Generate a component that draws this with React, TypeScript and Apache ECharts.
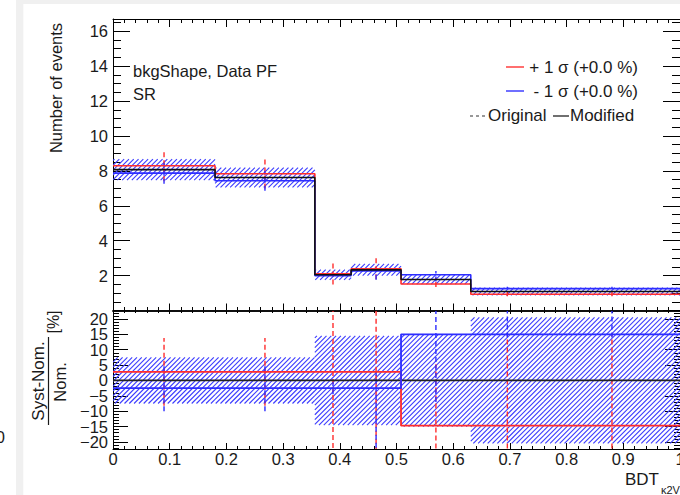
import React, { useEffect, useRef } from 'react';
import * as echarts from 'echarts';

// ---------------- data ----------------
const binEdges = [0, 0.18, 0.356, 0.42, 0.508, 0.631, 0.76, 1.0];
const nominalEvents = [8.07, 7.62, 2.05, 2.33, 1.78, 1.09, 1.09];
const plusShiftPct = [2.8, 2.8, 2.8, 2.8, -14.7, -14.7, -14.7];
const minusShiftPct = [-2.5, -2.5, -2.5, -2.5, 15, 15, 15];
const statErrPct = [7.5, 7.5, 14.5, 14.5, 15, 20.5, 20.5];
const plusErrUpPct = [11, 11, 30, 26, 20, 30, 30];
const plusErrDownPct = [11, 11, 30, 26, 10, 10, 10];
const minusErrUpPct = [7.5, 7.5, 2, 5.5, 12, 10, 10];
const minusErrDownPct = [7.5, 7.5, 2, 22, 22, 1, 1];

const eventTicks = [0, 2, 4, 6, 8, 10, 12, 14, 16];
const ratioTicks = [-20, -15, -10, -5, 0, 5, 10, 15, 20];
const ratioLabelsA = [-20, -10, 0, 10, 20];
const ratioLabelsB = [-15, -5, 5, 15];
const xTickLabels = ['0', '0.1', '0.2', '0.3', '0.4', '0.5', '0.6', '0.7', '0.8', '0.9', '1'];

const legendPlus = '+ 1 \u03c3 (+0.0 %)';
const legendMinus = ' - 1 \u03c3 (+0.0 %)';
const regionLabel = 'bkgShape, Data PF';
const regionSub = 'SR';

// ---------------- style ----------------
const FONT = '"Liberation Sans", Arial, Helvetica, sans-serif';
const TXT = '#1a1a1a';
const RED = '#ff2d2d';
const BLUE = '#2d2dff';
const HATCH = '#3c3cff';
const HATCH_STEP = 4.8;

const eventMinor: number[] = [];
for (let v = 0; v <= 16.6; v += 0.5) eventMinor.push(Math.round(v * 10) / 10);
const ratioMinor: number[] = [];
for (let v = -22; v <= 22; v += 1) ratioMinor.push(v);

const centers = binEdges.slice(0, -1).map((e, i) => (e + binEdges[i + 1]) / 2);

function stepPoints(values: number[]) {
  const pts: number[][] = [];
  values.forEach((v, i) => {
    pts.push([binEdges[i], v]);
    pts.push([binEdges[i + 1], v]);
  });
  return pts;
}

const plusEvents = nominalEvents.map((n, i) => n * (1 + plusShiftPct[i] / 100));
const minusEvents = nominalEvents.map((n, i) => n * (1 + minusShiftPct[i] / 100));
const zeroRatio = nominalEvents.map(() => 0);

const hatchTop = nominalEvents.map((n, i) => [
  binEdges[i], binEdges[i + 1], n * (1 - statErrPct[i] / 100), n * (1 + statErrPct[i] / 100),
]);
const hatchBottom = statErrPct.map((e, i) => [binEdges[i], binEdges[i + 1], -e, e]);

const errTop = (shift: number[], up: number[], down: number[]) =>
  centers.map((c, i) => [
    c,
    nominalEvents[i] * (1 + (shift[i] - down[i]) / 100),
    nominalEvents[i] * (1 + (shift[i] + up[i]) / 100),
  ]);
const errBottom = (shift: number[], up: number[], down: number[]) =>
  centers.map((c, i) => [c, shift[i] - down[i], shift[i] + up[i]]);

function renderHatch(_params: any, api: any) {
  const a = api.coord([api.value(0), api.value(3)]);
  const b = api.coord([api.value(1), api.value(2)]);
  const x0 = Math.min(a[0], b[0]);
  const x1 = Math.max(a[0], b[0]);
  const y0 = Math.min(a[1], b[1]);
  const y1 = Math.max(a[1], b[1]);
  const children: any[] = [];
  const start = Math.ceil((x0 + y0) / HATCH_STEP) * HATCH_STEP;
  for (let c = start; c <= x1 + y1; c += HATCH_STEP) {
    const xa = Math.max(x0, c - y1);
    const xb = Math.min(x1, c - y0);
    if (xb - xa > 0.3) {
      children.push({
        type: 'line',
        shape: { x1: xa, y1: c - xa, x2: xb, y2: c - xb },
        style: { stroke: HATCH, lineWidth: 1.1 },
      });
    }
  }
  return { type: 'group', children };
}

function renderErr(color: string) {
  return (_params: any, api: any) => {
    const p = api.coord([api.value(0), api.value(1)]);
    const q = api.coord([api.value(0), api.value(2)]);
    return {
      type: 'line',
      shape: { x1: p[0], y1: p[1], x2: q[0], y2: q[1] },
      style: { stroke: color, lineWidth: 1.4, lineDash: [5, 3] },
    };
  };
}

const labelStyle = { color: TXT, fontSize: 16.5, fontFamily: FONT };

function yAxes(gridIndex: number, min: number, max: number, majors: number[], minors: number[],
  majLen: number, minLen: number, formatter: (v: number) => string,
  labelsA: number[], labelsB: number[] | null) {
  const base = {
    type: 'value', gridIndex, min, max,
    splitLine: { show: false },
  };
  const lab = (vals: number[]) => ({
    show: true, customValues: vals, formatter, margin: 5,
    showMinLabel: true, showMaxLabel: true, hideOverlap: false, ...labelStyle,
  });
  const out: any[] = [];
  (['left', 'right'] as const).forEach((position) => {
    out.push({
      ...base, position,
      axisLine: { show: true, onZero: false, lineStyle: { color: '#000', width: 1 } },
      axisTick: { show: true, inside: true, length: majLen, customValues: majors, lineStyle: { color: '#000', width: 1 } },
      axisLabel: position === 'left' ? lab(labelsA) : { show: false },
    });
    out.push({
      ...base, position,
      axisLine: { show: false, onZero: false },
      axisTick: { show: true, inside: true, length: minLen, customValues: minors, lineStyle: { color: '#000', width: 1 } },
      axisLabel: position === 'left' && labelsB ? lab(labelsB) : { show: false },
    });
  });
  return out;
}

function xAxis(gridIndex: number, position: 'top' | 'bottom', majLen: number, minLen: number, labels: boolean, lw: number) {
  return {
    type: 'value', gridIndex, position, min: 0, max: 1, interval: 0.1,
    axisLine: { show: true, onZero: false, lineStyle: { color: '#000', width: lw } },
    axisTick: { show: true, inside: true, length: majLen, lineStyle: { color: '#000', width: 1 } },
    minorTick: { show: true, splitNumber: 5, length: minLen, lineStyle: { color: '#000', width: 1 } },
    splitLine: { show: false },
    minorSplitLine: { show: false },
    axisLabel: labels
      ? {
          show: true, margin: 1, showMinLabel: true, showMaxLabel: true, ...labelStyle,
          formatter: (v: number) => xTickLabels[Math.round(v * 10)] ?? '',
        }
      : { show: false },
  };
}

function lineSeries(xi: number, yi: number, data: number[][], color: string, width: number) {
  return {
    type: 'line', xAxisIndex: xi, yAxisIndex: yi, data,
    symbol: 'none', showSymbol: false, clip: true, silent: true,
    lineStyle: { color, width },
  };
}

function customSeries(xi: number, yi: number, data: number[][], renderItem: any, encode: any) {
  return {
    type: 'custom', xAxisIndex: xi, yAxisIndex: yi, data, renderItem, encode, clip: true, silent: true,
  };
}

function buildOption(): any {
  const ratioFmt = (v: number) => (v < 0 ? '\u2212' + String(-v) : String(v));
  const evFmt = (v: number) => (v === 0 ? '' : String(v));
  const g = (o: any) => ({ silent: true, ...o });
  return {
    animation: false,
    backgroundColor: '#ffffff',
    grid: [
      { left: 113, top: 19, width: 567, height: 291.5, outerBoundsMode: 'none', containLabel: false },
      { left: 113, top: 311, width: 567, height: 138, outerBoundsMode: 'none', containLabel: false },
    ],
    xAxis: [
      xAxis(0, 'bottom', 7, 3.5, false, 1.5),
      xAxis(0, 'top', 8, 4, false, 1),
      xAxis(1, 'bottom', 6, 3, true, 1.2),
      xAxis(1, 'top', 3, 2, false, 1.5),
    ],
    yAxis: [
      ...yAxes(0, 0, 16.7, eventTicks, eventMinor, 17, 8, evFmt, eventTicks, null),
      ...yAxes(1, -22.3, 22.6, ratioTicks, ratioMinor, 15, 6, ratioFmt, ratioLabelsA, ratioLabelsB),
    ],
    series: [
      // top panel
      customSeries(0, 0, hatchTop, renderHatch, { x: [0, 1], y: [2, 3] }),
      lineSeries(0, 0, stepPoints(plusEvents), RED, 1.6),
      lineSeries(0, 0, stepPoints(minusEvents), BLUE, 1.6),
      customSeries(0, 0, errTop(plusShiftPct, plusErrUpPct, plusErrDownPct), renderErr(RED), { x: 0, y: [1, 2] }),
      customSeries(0, 0, errTop(minusShiftPct, minusErrUpPct, minusErrDownPct), renderErr(BLUE), { x: 0, y: [1, 2] }),
      lineSeries(0, 0, stepPoints(nominalEvents), '#111', 1.6),
      // ratio panel
      customSeries(2, 4, hatchBottom, renderHatch, { x: [0, 1], y: [2, 3] }),
      lineSeries(2, 4, stepPoints(zeroRatio), '#222', 1.8),
      lineSeries(2, 4, stepPoints(plusShiftPct), RED, 1.8),
      lineSeries(2, 4, stepPoints(minusShiftPct), BLUE, 1.8),
      customSeries(2, 4, errBottom(plusShiftPct, plusErrUpPct, plusErrDownPct), renderErr(RED), { x: 0, y: [1, 2] }),
      customSeries(2, 4, errBottom(minusShiftPct, minusErrUpPct, minusErrDownPct), renderErr(BLUE), { x: 0, y: [1, 2] }),
    ],
    graphic: [
      g({ type: 'rect', z: -1, shape: { x: 16, y: 0, width: 7.3, height: 495 }, style: { fill: '#f0f0f0' } }),
      g({ type: 'rect', z: -1, shape: { x: 16, y: 0, width: 664, height: 4 }, style: { fill: '#f0f0f0' } }),
      g({ type: 'text', x: 5, y: 437, style: { text: '0', fill: TXT, font: `16.5px ${FONT}`, align: 'right', verticalAlign: 'middle' } }),
      // y titles
      g({ type: 'text', x: 56, y: 88, rotation: Math.PI / 2, style: { text: 'Number of events', fill: TXT, font: `16.5px ${FONT}`, align: 'center', verticalAlign: 'middle' } }),
      g({ type: 'text', x: 38, y: 381, rotation: Math.PI / 2, style: { text: 'Syst-Nom.', fill: TXT, font: `17px ${FONT}`, align: 'center', verticalAlign: 'middle' } }),
      g({ type: 'line', shape: { x1: 48.5, y1: 337, x2: 48.5, y2: 425 }, style: { stroke: TXT, lineWidth: 1.2 } }),
      g({ type: 'text', x: 60, y: 382, rotation: Math.PI / 2, style: { text: 'Nom.', fill: TXT, font: `16.5px ${FONT}`, align: 'center', verticalAlign: 'middle' } }),
      g({ type: 'text', x: 53, y: 322, rotation: Math.PI / 2, style: { text: '[%]', fill: TXT, font: `16px ${FONT}`, align: 'center', verticalAlign: 'middle' } }),
      // labels in the plot
      g({ type: 'text', x: 133, y: 71, style: { text: regionLabel, fill: TXT, font: `16.5px ${FONT}`, align: 'left', verticalAlign: 'middle' } }),
      g({ type: 'text', x: 133, y: 94, style: { text: regionSub, fill: TXT, font: `16.5px ${FONT}`, align: 'left', verticalAlign: 'middle' } }),
      // legend
      g({ type: 'line', shape: { x1: 506, y1: 67, x2: 524, y2: 67 }, style: { stroke: '#ff6f6f', lineWidth: 2 } }),
      g({ type: 'text', x: 638, y: 67, style: { text: legendPlus, fill: TXT, font: `17px ${FONT}`, align: 'right', verticalAlign: 'middle' } }),
      g({ type: 'line', shape: { x1: 506, y1: 91, x2: 524, y2: 91 }, style: { stroke: '#6f6fff', lineWidth: 2 } }),
      g({ type: 'text', x: 638, y: 91, style: { text: legendMinus, fill: TXT, font: `17px ${FONT}`, align: 'right', verticalAlign: 'middle' } }),
      g({ type: 'line', shape: { x1: 470, y1: 116, x2: 485, y2: 116 }, style: { stroke: '#333', lineWidth: 1.2, lineDash: [3, 3] } }),
      g({ type: 'text', x: 488, y: 115, style: { text: 'Original', fill: TXT, font: `17px ${FONT}`, align: 'left', verticalAlign: 'middle' } }),
      g({ type: 'line', shape: { x1: 553, y1: 116, x2: 569, y2: 116 }, style: { stroke: '#222', lineWidth: 1.3 } }),
      g({ type: 'text', x: 570, y: 115, style: { text: 'Modified', fill: TXT, font: `17px ${FONT}`, align: 'left', verticalAlign: 'middle' } }),
      // x title
      g({ type: 'text', x: 625, y: 479, style: { text: 'BDT', fill: TXT, font: `17px ${FONT}`, align: 'left', verticalAlign: 'middle' } }),
      g({ type: 'text', x: 661, y: 490, style: { text: '\u03ba2V', fill: TXT, font: `11px ${FONT}`, align: 'left', verticalAlign: 'middle' } }),
    ],
  };
}

export default function App() {
  const ref = useRef<HTMLDivElement>(null);
  useEffect(() => {
    if (!ref.current) return;
    const chart = echarts.init(ref.current, null, { renderer: 'svg' });
    chart.setOption(buildOption());
    return () => chart.dispose();
  }, []);
  return (
    <div
      ref={ref}
      style={{ position: 'absolute', left: 0, top: 0, width: 680, height: 495, background: '#fff' }}
    />
  );
}
